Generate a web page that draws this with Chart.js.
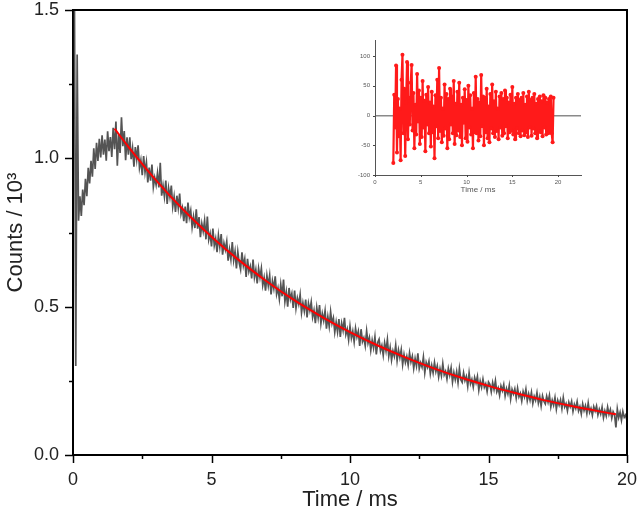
<!DOCTYPE html>
<html>
<head>
<meta charset="utf-8">
<script src="https://cdn.jsdelivr.net/npm/chart.js@4.4.1/dist/chart.umd.min.js"></script>
<style>
  body { margin: 0; background: #fff; }
  #wrap { position: relative; width: 638px; height: 522px; }
  #main { position: absolute; left: 0; top: 0; }
  #inset { position: absolute; left: 340px; top: 30px; }
</style>
</head>
<body>
<div id="wrap">
  <canvas id="main" width="638" height="522"></canvas>
  <canvas id="inset" width="250" height="170"></canvas>
</div>
<script>
// decay trace, counts / 10^3, sampled every 0.05 ms starting at 0.05 ms
var decayStart = 0.05, decayStep = 0.05;
var decayCounts = [
  1.600, 0.300, 1.350, 0.790, 0.872, 0.806, 0.895, 0.842, 0.931, 0.872, 0.968, 0.915, 0.992, 0.938, 1.034, 0.964, 1.052, 0.991, 1.066, 1.003,
  1.078, 1.012, 1.063, 0.992, 1.091, 1.024, 1.072, 1.005, 1.103, 1.031, 1.124, 0.975, 1.083, 1.018, 1.138, 1.041, 1.092, 0.994, 1.071, 1.012,
  1.071, 0.997, 1.034, 0.972, 1.038, 0.996, 1.044, 0.968, 0.994, 0.943, 1.008, 0.953, 0.987, 0.919, 0.969, 0.925, 0.979, 0.903, 0.935, 0.911,
  0.950, 0.902, 0.985, 0.874, 0.909, 0.871, 0.925, 0.846, 0.900, 0.869, 0.908, 0.837, 0.871, 0.819, 0.874, 0.833, 0.881, 0.813, 0.833, 0.788,
  0.837, 0.781, 0.851, 0.801, 0.824, 0.768, 0.803, 0.765, 0.828, 0.763, 0.802, 0.734, 0.780, 0.754, 0.790, 0.727, 0.804, 0.726, 0.747, 0.703,
  0.763, 0.706, 0.729, 0.684, 0.740, 0.701, 0.745, 0.675, 0.714, 0.692, 0.720, 0.655, 0.693, 0.660, 0.718, 0.656, 0.686, 0.629, 0.685, 0.648,
  0.626, 0.683, 0.638, 0.661, 0.600, 0.661, 0.618, 0.636, 0.595, 0.659, 0.599, 0.625, 0.578, 0.629, 0.598, 0.629, 0.572, 0.598, 0.554, 0.605,
  0.571, 0.606, 0.541, 0.587, 0.561, 0.602, 0.542, 0.563, 0.526, 0.575, 0.535, 0.591, 0.517, 0.550, 0.500, 0.563, 0.525, 0.544, 0.496, 0.554,
  0.495, 0.529, 0.508, 0.541, 0.480, 0.513, 0.485, 0.524, 0.464, 0.511, 0.487, 0.516, 0.465, 0.488, 0.444, 0.497, 0.463, 0.505, 0.443, 0.477,
  0.453, 0.486, 0.426, 0.466, 0.433, 0.483, 0.443, 0.462, 0.414, 0.448, 0.415, 0.458, 0.398, 0.444, 0.420, 0.462, 0.406, 0.424, 0.388, 0.434,
  0.394, 0.417, 0.381, 0.427, 0.398, 0.417, 0.368, 0.424, 0.382, 0.395, 0.368, 0.418, 0.377, 0.396, 0.353, 0.387, 0.361, 0.398, 0.339, 0.379,
  0.390, 0.351, 0.369, 0.336, 0.378, 0.351, 0.389, 0.333, 0.362, 0.320, 0.351, 0.333, 0.370, 0.318, 0.354, 0.328, 0.355, 0.305, 0.339, 0.312,
  0.332, 0.303, 0.344, 0.314, 0.333, 0.292, 0.325, 0.300, 0.343, 0.291, 0.311, 0.296, 0.330, 0.277, 0.312, 0.296, 0.316, 0.274, 0.302, 0.277,
  0.312, 0.281, 0.300, 0.263, 0.291, 0.267, 0.308, 0.270, 0.282, 0.256, 0.292, 0.269, 0.294, 0.246, 0.278, 0.254, 0.281, 0.244, 0.291, 0.254,
  0.245, 0.277, 0.251, 0.265, 0.232, 0.277, 0.240, 0.255, 0.229, 0.261, 0.243, 0.265, 0.219, 0.249, 0.228, 0.256, 0.228, 0.240, 0.214, 0.246,
  0.238, 0.213, 0.244, 0.221, 0.250, 0.213, 0.226, 0.201, 0.233, 0.217, 0.237, 0.199, 0.224, 0.206, 0.234, 0.189, 0.221, 0.206, 0.223, 0.192,
  0.225, 0.196, 0.208, 0.182, 0.214, 0.196, 0.222, 0.183, 0.206, 0.185, 0.211, 0.174, 0.198, 0.184, 0.210, 0.175, 0.197, 0.165, 0.199, 0.181,
  0.172, 0.198, 0.178, 0.201, 0.162, 0.185, 0.168, 0.194, 0.155, 0.184, 0.168, 0.186, 0.156, 0.193, 0.162, 0.173, 0.149, 0.178, 0.163, 0.181,
  0.147, 0.171, 0.157, 0.180, 0.149, 0.163, 0.139, 0.172, 0.150, 0.166, 0.140, 0.175, 0.144, 0.157, 0.134, 0.163, 0.148, 0.165, 0.135, 0.154,
  0.138, 0.161, 0.126, 0.149, 0.132, 0.162, 0.137, 0.153, 0.124, 0.146, 0.136, 0.093, 0.155, 0.126, 0.144, 0.117, 0.147, 0.127, 0.135, 0.116
];

// fitted curve
var fitTimes  = [1.5, 2, 3, 4, 5, 6, 7, 8, 9, 10, 11, 12, 13, 14, 15, 16, 17, 18, 19, 19.6];
var fitValues = [1.100, 1.039, 0.926, 0.825, 0.736, 0.656, 0.585, 0.521, 0.465, 0.414, 0.369, 0.329, 0.293, 0.261, 0.233, 0.208, 0.185, 0.165, 0.147, 0.137];

// residuals (counts), every 0.1 ms from 2.0 ms
var resStart = 2.0, resStep = 0.1;
var residuals = [
  -80, 35, -20, 84, -62, 28, -35, 12, -75, 60,
  102, -30, 45, -68, 22, 90, -40, 30, -15, 55,
  85, -25, 38, -55, 18, -32, 70, -10, 42, -48,
  30, -36, 58, -20, 25, -60, 35, -15, 48, -30,
  22, -52, 40, -28, 15, -72, 34, -18, 60, -38,
  80, -26, 30, -45, 12, -34, 52, -22, 36, -55,
  28, -40, 45, -15, 32, -30, 58, -48, 20, -33,
  40, -25, 55, -36, 18, -50, 30, -12, 44, -38,
  26, -44, 50, -20, 34, -32, 12, -55, 38, -28,
  65, -30, 28, -42, 22, -35, 68, -18, 32, -50,
  30, -28, 45, -38, 15, -45, 36, -22, 52, -30,
  24, -36, 40, -26, 12, -40, 32, -20, 38, -34,
  28, -30, 42, -18, 30, -38, 22, -28, 35, -25,
  48, -32, 20, -40, 30, -22, 36, -30, 26, -35,
  30, -25, 38, -33, 18, -28, 32, -36, 40, -20,
  26, -34, 30, -22, 36, -30, 20, -38, 28, -26,
  32, -28, 24, -35, 34, -20, 30, -32, 22, -30,
  28, -26, 32, -30, -45, 30
];

var yTicks = [0, 0.5, 1.0, 1.5];
var xTicks = [0, 5, 10, 15, 20];
var insetYTicks = [-100, -50, 0, 50, 100];
var insetXTicks = [0, 5, 10, 15, 20];

var fontFam = "'Liberation Sans', Arial, sans-serif";

function isMajor(v, list) {
  return list.some(function (m) { return Math.abs(m - v) < 1e-6; });
}

// outward tick marks (major/minor) and optional box frame
var tickMarks = {
  id: 'tickMarks',
  afterDraw: function (chart, args, o) {
    var ctx = chart.ctx, a = chart.chartArea;
    var xs = chart.scales.x, ys = chart.scales.y;
    ctx.save();
    ctx.strokeStyle = o.color;
    ctx.lineWidth = o.width;
    xs.ticks.forEach(function (t) {
      var major = isMajor(t.value, o.xMajor);
      if (!major && !o.minor) return;
      var px = Math.round(xs.getPixelForValue(t.value)) + 0.5;
      ctx.beginPath();
      ctx.moveTo(px, a.bottom);
      ctx.lineTo(px, a.bottom + (major ? o.majorLen : o.minorLen));
      ctx.stroke();
    });
    ys.ticks.forEach(function (t) {
      var major = isMajor(t.value, o.yMajor);
      if (!major && !o.minor) return;
      var py = Math.round(ys.getPixelForValue(t.value)) + 0.5;
      ctx.beginPath();
      ctx.moveTo(a.left, py);
      ctx.lineTo(a.left - (major ? o.majorLen : o.minorLen), py);
      ctx.stroke();
    });
    if (o.box) {
      ctx.lineWidth = 2;
      ctx.beginPath();
      ctx.moveTo(a.left, a.top);
      ctx.lineTo(a.right, a.top);
      ctx.lineTo(a.right, a.bottom);
      ctx.stroke();
    }
    ctx.restore();
  }
};

var decayPoints = decayCounts.map(function (v, i) { return {x: decayStart + i * decayStep, y: v}; });
var fitPoints = fitTimes.map(function (t, i) { return {x: t, y: fitValues[i]}; });
var resPoints = residuals.map(function (v, i) { return {x: resStart + i * resStep, y: v}; });

new Chart("main", {
  type: "line",
  data: {
    datasets: [{
      data: fitPoints,
      borderColor: "#ff0000",
      borderWidth: 2,
      pointRadius: 0,
      cubicInterpolationMode: "monotone"
    }, {
      data: decayPoints,
      borderColor: "rgba(65,65,65,0.9)",
      borderWidth: 1.7,
      pointRadius: 0,
      tension: 0
    }]
  },
  plugins: [tickMarks],
  options: {
    responsive: false,
    animation: false,
    layout: {padding: {top: 10, right: 11, left: 0, bottom: 0}},
    plugins: {
      legend: {display: false},
      tooltip: {enabled: false},
      tickMarks: {color: "#000", width: 1.5, majorLen: 8, minorLen: 4, minor: true,
                  xMajor: xTicks, yMajor: yTicks, box: true}
    },
    scales: {
      x: {
        type: "linear",
        min: 0, max: 20,
        afterFit: function (s) { s.height = 67; s.paddingLeft = 0; s.paddingRight = 0; },
        grid: {display: true, drawOnChartArea: false, drawTicks: false},
        border: {display: true, color: "#000", width: 2},
        ticks: {
          stepSize: 2.5, autoSkip: false, maxRotation: 0, padding: 14,
          color: "#222", font: {family: fontFam, size: 18},
          callback: function (v) { return isMajor(v, xTicks) ? String(v) : ""; }
        },
        title: {display: true, text: "Time / ms", color: "#222",
                font: {family: fontFam, size: 22}, padding: {top: 0, bottom: 9}}
      },
      y: {
        min: 0, max: 1.5,
        afterFit: function (s) { s.width = 73; s.paddingTop = 0; s.paddingBottom = 0; },
        grid: {display: true, drawOnChartArea: false, drawTicks: false},
        border: {display: true, color: "#000", width: 2},
        ticks: {
          stepSize: 0.25, autoSkip: false, padding: 14,
          color: "#222", font: {family: fontFam, size: 18},
          callback: function (v) { return isMajor(v, yTicks) ? v.toFixed(1) : ""; }
        },
        title: {display: true, text: "Counts / 10³", color: "#222",
                font: {family: fontFam, size: 22}, padding: {top: 3, bottom: 0}}
      }
    }
  }
});

new Chart("inset", {
  type: "scatter",
  data: {
    datasets: [{
      data: resPoints,
      showLine: true,
      borderColor: "#ff1a1a",
      borderWidth: 2.2,
      pointRadius: 2,
      pointBackgroundColor: "#ff1a1a",
      pointBorderWidth: 0
    }]
  },
  plugins: [tickMarks],
  options: {
    responsive: false,
    animation: false,
    layout: {padding: {top: 10, right: 9, left: 0, bottom: 0}},
    plugins: {
      legend: {display: false},
      tooltip: {enabled: false},
      tickMarks: {color: "#444", width: 1, majorLen: 2, minorLen: 0, minor: false,
                  xMajor: insetXTicks, yMajor: insetYTicks, box: false}
    },
    scales: {
      x: {
        type: "linear",
        min: 0, max: 22.5,
        afterFit: function (s) { s.height = 25; s.paddingLeft = 0; s.paddingRight = 0; },
        grid: {display: false, drawTicks: false},
        border: {display: true, color: "#555", width: 1},
        ticks: {
          stepSize: 5, autoSkip: false, maxRotation: 0, padding: 4,
          color: "#555", font: {family: fontFam, size: 6},
          callback: function (v) { return isMajor(v, insetXTicks) ? String(v) : ""; }
        },
        title: {display: true, text: "Time / ms", color: "#555",
                font: {family: fontFam, size: 8}, padding: {top: 0, bottom: 5}}
      },
      y: {
        min: -100, max: 127,
        afterFit: function (s) { s.width = 35; s.paddingTop = 0; s.paddingBottom = 0; },
        grid: {
          display: true, drawTicks: false, lineWidth: 1.5,
          color: function (c) { return c.tick && c.tick.value === 0 ? "#8a8a8a" : "rgba(0,0,0,0)"; }
        },
        border: {display: true, color: "#555", width: 1},
        ticks: {
          stepSize: 50, autoSkip: false, padding: 5,
          color: "#555", font: {family: fontFam, size: 6},
          callback: function (v) { return isMajor(v, insetYTicks) ? String(v) : ""; }
        }
      }
    }
  }
});
</script>
</body>
</html>
